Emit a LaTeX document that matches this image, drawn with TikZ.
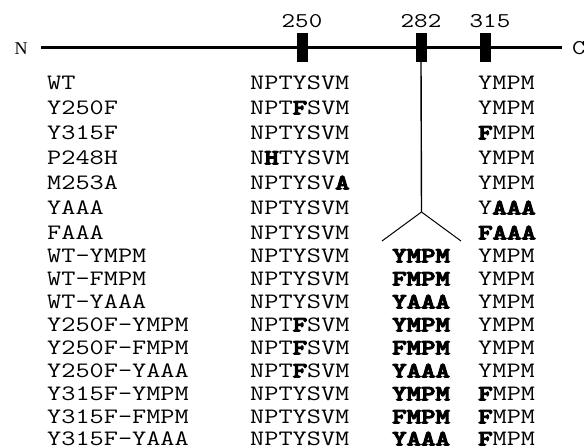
\documentclass[tikz,border=0pt]{standalone}
\usepackage{fontspec}
\setmainfont{Liberation Serif}
\tikzset{
  txt/.style={anchor=base west, inner sep=0pt, font=\ttfamily\fontsize{22}{22}\selectfont},
  num/.style={anchor=base, inner sep=0pt, font=\ttfamily\fontsize{21}{21}\selectfont},
  site/.style={fill=black, draw=none, minimum width=11pt, minimum height=29pt, inner sep=0pt},
  mainline/.style={line width=2.2pt},
  stem/.style={line width=1.4pt},
  branch/.style={line width=1pt}
}
\newcommand{\ct}[1]{\scalebox{1.25}[1]{#1}}
\newcommand{\bb}[1]{{\bfseries\special{pdf:literal direct 2 Tr 0.9 w}#1\special{pdf:literal direct 0 Tr}}}
\begin{document}
\begin{tikzpicture}[x=1pt,y=-1pt]
\useasboundingbox[fill=white] (0,0) rectangle (584,447);
% protein line
\node[anchor=base, inner sep=0pt, font=\rmfamily\fontsize{18}{18}\selectfont] (N) at (21,54) {N};
\node[anchor=base west, inner sep=0pt, font=\ttfamily\fontsize{21}{21}\selectfont] (C) at (572,54.5) {\ct{C}};
\coordinate (lstart) at (41,47.5);
\coordinate (lend) at (562,47.5);
\draw[mainline] (lstart) -- (lend);
\node[site] (b250) at (302.5,47.5) {};
\node[site] (b282) at (421,47.5) {};
\node[site] (b315) at (485,47.5) {};
\node[num] (n250) at (302,27.5) {\ct{250}};
\node[num] (n282) at (421,27.5) {\ct{282}};
\node[num] (n315) at (490,27.5) {\ct{315}};
% branch
\coordinate (apex) at (421.5,212);
\coordinate (brL) at (382,241);
\coordinate (brR) at (461,241);
\draw[stem] (b282.south) -- (apex);
\draw[branch] (apex) -- (brL);
\draw[branch] (apex) -- (brR);
% rows (baseline = centre + 6.5)
\node[txt] (l1) at (47,89.5) {\ct{WT}};
\node[txt] (s1) at (250,89.5) {\ct{NPTYSVM}};
\node[txt] (r1) at (478,89.5) {\ct{YMPM}};
\node[txt] (l2) at (47,114.5) {\ct{Y250F}};
\node[txt] (s2) at (250,114.5) {\ct{NPT\bb{F}SVM}};
\node[txt] (r2) at (478,114.5) {\ct{YMPM}};
\node[txt] (l3) at (47,139.5) {\ct{Y315F}};
\node[txt] (s3) at (250,139.5) {\ct{NPTYSVM}};
\node[txt] (r3) at (478,139.5) {\ct{\bb{F}MPM}};
\node[txt] (l4) at (47,164.5) {\ct{P248H}};
\node[txt] (s4) at (250,164.5) {\ct{N\bb{H}TYSVM}};
\node[txt] (r4) at (478,164.5) {\ct{YMPM}};
\node[txt] (l5) at (47,189.5) {\ct{M253A}};
\node[txt] (s5) at (250,189.5) {\ct{NPTYSV\bb{A}}};
\node[txt] (r5) at (478,189.5) {\ct{YMPM}};
\node[txt] (l6) at (47,214.5) {\ct{YAAA}};
\node[txt] (s6) at (250,214.5) {\ct{NPTYSVM}};
\node[txt] (r6) at (478,214.5) {\ct{Y\bb{AAA}}};
\node[txt] (l7) at (47,239.5) {\ct{FAAA}};
\node[txt] (s7) at (250,239.5) {\ct{NPTYSVM}};
\node[txt] (r7) at (478,239.5) {\ct{\bb{FAAA}}};
\node[txt] (l8) at (47,262.5) {\ct{WT-YMPM}};
\node[txt] (s8) at (250,262.5) {\ct{NPTYSVM}};
\node[txt] (m8) at (392,262.5) {\ct{\bb{YMPM}}};
\node[txt] (r8) at (478,262.5) {\ct{YMPM}};
\node[txt] (l9) at (47,285.5) {\ct{WT-FMPM}};
\node[txt] (s9) at (250,285.5) {\ct{NPTYSVM}};
\node[txt] (m9) at (392,285.5) {\ct{\bb{FMPM}}};
\node[txt] (r9) at (478,285.5) {\ct{YMPM}};
\node[txt] (l10) at (47,308.5) {\ct{WT-YAAA}};
\node[txt] (s10) at (250,308.5) {\ct{NPTYSVM}};
\node[txt] (m10) at (392,308.5) {\ct{\bb{YAAA}}};
\node[txt] (r10) at (478,308.5) {\ct{YMPM}};
\node[txt] (l11) at (47,331.5) {\ct{Y250F-YMPM}};
\node[txt] (s11) at (250,331.5) {\ct{NPT\bb{F}SVM}};
\node[txt] (m11) at (392,331.5) {\ct{\bb{YMPM}}};
\node[txt] (r11) at (478,331.5) {\ct{YMPM}};
\node[txt] (l12) at (47,354.5) {\ct{Y250F-FMPM}};
\node[txt] (s12) at (250,354.5) {\ct{NPT\bb{F}SVM}};
\node[txt] (m12) at (392,354.5) {\ct{\bb{FMPM}}};
\node[txt] (r12) at (478,354.5) {\ct{YMPM}};
\node[txt] (l13) at (47,377.5) {\ct{Y250F-YAAA}};
\node[txt] (s13) at (250,377.5) {\ct{NPT\bb{F}SVM}};
\node[txt] (m13) at (392,377.5) {\ct{\bb{YAAA}}};
\node[txt] (r13) at (478,377.5) {\ct{YMPM}};
\node[txt] (l14) at (47,400.5) {\ct{Y315F-YMPM}};
\node[txt] (s14) at (250,400.5) {\ct{NPTYSVM}};
\node[txt] (m14) at (392,400.5) {\ct{\bb{YMPM}}};
\node[txt] (r14) at (478,400.5) {\ct{\bb{F}MPM}};
\node[txt] (l15) at (47,423.5) {\ct{Y315F-FMPM}};
\node[txt] (s15) at (250,423.5) {\ct{NPTYSVM}};
\node[txt] (m15) at (392,423.5) {\ct{\bb{FMPM}}};
\node[txt] (r15) at (478,423.5) {\ct{\bb{F}MPM}};
\node[txt] (l16) at (47,445.5) {\ct{Y315F-YAAA}};
\node[txt] (s16) at (250,445.5) {\ct{NPTYSVM}};
\node[txt] (m16) at (392,445.5) {\ct{\bb{YAAA}}};
\node[txt] (r16) at (478,445.5) {\ct{\bb{F}MPM}};
\end{tikzpicture}
\end{document}
